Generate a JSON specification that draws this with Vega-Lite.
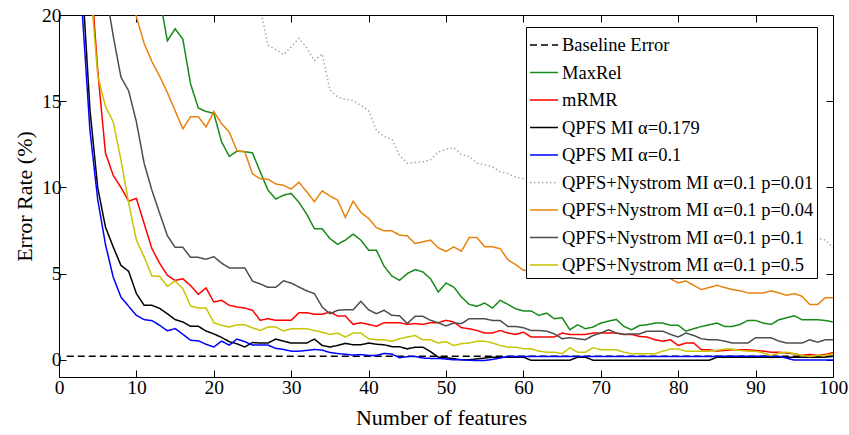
{
"$schema": "https://vega.github.io/schema/vega-lite/v6.json",
"autosize": {"type": "none"},
"padding": {"left": 59, "top": 15, "right": 16, "bottom": 58},
"width": 774,
"height": 362,
"background": "white",
"config": {
  "view": {"stroke": null},
  "axis": {"domainColor": "black", "tickColor": "black", "labelColor": "black", "titleColor": "black", "labelFont": "Liberation Serif", "titleFont": "Liberation Serif", "labelFontSize": 19.5, "titleFontSize": 22, "titleFontWeight": "normal", "tickSize": -7, "grid": false, "domainWidth": 1, "tickWidth": 1, "labelFlush": false, "labelOverlap": false},
  "legend": {"orient": "none", "legendX": 467, "legendY": 12, "fillColor": "white", "strokeColor": "black", "padding": 3, "labelFont": "Liberation Serif", "labelFontSize": 18.5, "labelColor": "black", "symbolType": "stroke", "symbolSize": 784, "symbolStrokeWidth": 1.5, "rowPadding": 2.5, "labelOffset": 3, "title": null, "zindex": 1, "labelLimit": 400}
},
"data": {"values": [
{"k":"B","n":1,"e":0.2},{"k":"B","n":100,"e":0.2},
{"k":"G","n":1,"e":60},{"k":"G","n":2,"e":50},{"k":"G","n":3,"e":45},{"k":"G","n":4,"e":40},{"k":"G","n":5,"e":36},{"k":"G","n":6,"e":33},{"k":"G","n":7,"e":30},{"k":"G","n":8,"e":28},{"k":"G","n":9,"e":26},{"k":"G","n":10,"e":24},{"k":"G","n":11,"e":23},{"k":"G","n":12,"e":22},{"k":"G","n":13,"e":21},{"k":"G","n":14,"e":18.5},{"k":"G","n":15,"e":19.2},{"k":"G","n":16,"e":18.6},{"k":"G","n":17,"e":16.0},{"k":"G","n":18,"e":14.6},{"k":"G","n":19,"e":14.4},{"k":"G","n":20,"e":14.3},{"k":"G","n":21,"e":12.65},{"k":"G","n":22,"e":11.8},{"k":"G","n":23,"e":12.1},{"k":"G","n":24,"e":12.07},{"k":"G","n":25,"e":12.0},{"k":"G","n":26,"e":10.9},{"k":"G","n":27,"e":9.84},{"k":"G","n":28,"e":9.32},{"k":"G","n":29,"e":9.55},{"k":"G","n":30,"e":9.65},{"k":"G","n":31,"e":9.13},{"k":"G","n":32,"e":8.45},{"k":"G","n":33,"e":7.6},{"k":"G","n":34,"e":7.6},{"k":"G","n":35,"e":7.03},{"k":"G","n":36,"e":6.7},{"k":"G","n":37,"e":6.94},{"k":"G","n":38,"e":7.29},{"k":"G","n":39,"e":6.94},{"k":"G","n":40,"e":6.36},{"k":"G","n":41,"e":6.36},{"k":"G","n":42,"e":5.43},{"k":"G","n":43,"e":4.86},{"k":"G","n":44,"e":4.61},{"k":"G","n":45,"e":5.0},{"k":"G","n":46,"e":5.23},{"k":"G","n":47,"e":5.1},{"k":"G","n":48,"e":4.7},{"k":"G","n":49,"e":3.93},{"k":"G","n":50,"e":4.45},{"k":"G","n":51,"e":4.22},{"k":"G","n":52,"e":3.64},{"k":"G","n":53,"e":3.21},{"k":"G","n":54,"e":3.1},{"k":"G","n":55,"e":3.29},{"k":"G","n":56,"e":3.0},{"k":"G","n":57,"e":3.45},{"k":"G","n":58,"e":3.21},{"k":"G","n":59,"e":2.96},{"k":"G","n":60,"e":2.83},{"k":"G","n":61,"e":2.83},{"k":"G","n":62,"e":2.57},{"k":"G","n":63,"e":2.71},{"k":"G","n":64,"e":2.38},{"k":"G","n":65,"e":2.44},{"k":"G","n":66,"e":1.74},{"k":"G","n":67,"e":2.03},{"k":"G","n":68,"e":1.8},{"k":"G","n":69,"e":1.9},{"k":"G","n":70,"e":2.13},{"k":"G","n":71,"e":2.24},{"k":"G","n":72,"e":2.34},{"k":"G","n":73,"e":1.93},{"k":"G","n":74,"e":1.74},{"k":"G","n":75,"e":1.99},{"k":"G","n":76,"e":2.03},{"k":"G","n":77,"e":2.13},{"k":"G","n":78,"e":2.13},{"k":"G","n":79,"e":2.0},{"k":"G","n":80,"e":2.0},{"k":"G","n":81,"e":1.66},{"k":"G","n":82,"e":1.8},{"k":"G","n":83,"e":1.93},{"k":"G","n":84,"e":2.03},{"k":"G","n":85,"e":2.13},{"k":"G","n":86,"e":1.93},{"k":"G","n":87,"e":1.93},{"k":"G","n":88,"e":2.05},{"k":"G","n":89,"e":2.28},{"k":"G","n":90,"e":2.28},{"k":"G","n":91,"e":2.13},{"k":"G","n":92,"e":2.05},{"k":"G","n":93,"e":2.32},{"k":"G","n":94,"e":2.44},{"k":"G","n":95,"e":2.55},{"k":"G","n":96,"e":2.32},{"k":"G","n":97,"e":2.32},{"k":"G","n":98,"e":2.32},{"k":"G","n":99,"e":2.28},{"k":"G","n":100,"e":2.19},
{"k":"R","n":1,"e":50},{"k":"R","n":2,"e":40},{"k":"R","n":3,"e":30},{"k":"R","n":4,"e":23},{"k":"R","n":5,"e":16.8},{"k":"R","n":6,"e":12.0},{"k":"R","n":7,"e":10.7},{"k":"R","n":8,"e":10.0},{"k":"R","n":9,"e":9.2},{"k":"R","n":10,"e":9.36},{"k":"R","n":11,"e":7.9},{"k":"R","n":12,"e":6.45},{"k":"R","n":13,"e":5.6},{"k":"R","n":14,"e":4.9},{"k":"R","n":15,"e":4.6},{"k":"R","n":16,"e":4.7},{"k":"R","n":17,"e":4.3},{"k":"R","n":18,"e":3.8},{"k":"R","n":19,"e":4.17},{"k":"R","n":20,"e":3.35},{"k":"R","n":21,"e":3.45},{"k":"R","n":22,"e":3.16},{"k":"R","n":23,"e":3.06},{"k":"R","n":24,"e":3.0},{"k":"R","n":25,"e":2.87},{"k":"R","n":26,"e":2.29},{"k":"R","n":27,"e":2.38},{"k":"R","n":28,"e":2.29},{"k":"R","n":29,"e":2.29},{"k":"R","n":30,"e":2.29},{"k":"R","n":31,"e":2.73},{"k":"R","n":32,"e":2.73},{"k":"R","n":33,"e":2.64},{"k":"R","n":34,"e":2.64},{"k":"R","n":35,"e":2.77},{"k":"R","n":36,"e":2.54},{"k":"R","n":37,"e":2.54},{"k":"R","n":38,"e":2.05},{"k":"R","n":39,"e":2.15},{"k":"R","n":40,"e":2.05},{"k":"R","n":41,"e":1.94},{"k":"R","n":42,"e":2.15},{"k":"R","n":43,"e":2.15},{"k":"R","n":44,"e":2.15},{"k":"R","n":45,"e":2.05},{"k":"R","n":46,"e":2.1},{"k":"R","n":47,"e":2.05},{"k":"R","n":48,"e":2.15},{"k":"R","n":49,"e":2.15},{"k":"R","n":50,"e":2.29},{"k":"R","n":51,"e":2.19},{"k":"R","n":52,"e":1.86},{"k":"R","n":53,"e":1.8},{"k":"R","n":54,"e":1.7},{"k":"R","n":55,"e":1.55},{"k":"R","n":56,"e":1.55},{"k":"R","n":57,"e":1.7},{"k":"R","n":58,"e":1.55},{"k":"R","n":59,"e":1.47},{"k":"R","n":60,"e":1.6},{"k":"R","n":61,"e":1.32},{"k":"R","n":62,"e":1.32},{"k":"R","n":63,"e":1.32},{"k":"R","n":64,"e":1.32},{"k":"R","n":65,"e":1.55},{"k":"R","n":66,"e":1.47},{"k":"R","n":67,"e":1.47},{"k":"R","n":68,"e":1.47},{"k":"R","n":69,"e":1.55},{"k":"R","n":70,"e":1.55},{"k":"R","n":71,"e":1.55},{"k":"R","n":72,"e":1.55},{"k":"R","n":73,"e":1.47},{"k":"R","n":74,"e":1.47},{"k":"R","n":75,"e":1.35},{"k":"R","n":76,"e":1.32},{"k":"R","n":77,"e":1.16},{"k":"R","n":78,"e":1.08},{"k":"R","n":79,"e":1.16},{"k":"R","n":80,"e":0.83},{"k":"R","n":81,"e":0.97},{"k":"R","n":82,"e":0.97},{"k":"R","n":83,"e":0.58},{"k":"R","n":84,"e":0.58},{"k":"R","n":85,"e":0.5},{"k":"R","n":86,"e":0.54},{"k":"R","n":87,"e":0.58},{"k":"R","n":88,"e":0.58},{"k":"R","n":89,"e":0.58},{"k":"R","n":90,"e":0.54},{"k":"R","n":91,"e":0.5},{"k":"R","n":92,"e":0.44},{"k":"R","n":93,"e":0.44},{"k":"R","n":94,"e":0.39},{"k":"R","n":95,"e":0.35},{"k":"R","n":96,"e":0.25},{"k":"R","n":97,"e":0.31},{"k":"R","n":98,"e":0.25},{"k":"R","n":99,"e":0.31},{"k":"R","n":100,"e":0.42},
{"k":"K","n":1,"e":45},{"k":"K","n":2,"e":32},{"k":"K","n":3,"e":22},{"k":"K","n":4,"e":14.5},{"k":"K","n":5,"e":10.0},{"k":"K","n":6,"e":7.7},{"k":"K","n":7,"e":6.55},{"k":"K","n":8,"e":5.48},{"k":"K","n":9,"e":5.13},{"k":"K","n":10,"e":3.84},{"k":"K","n":11,"e":3.16},{"k":"K","n":12,"e":3.16},{"k":"K","n":13,"e":2.98},{"k":"K","n":14,"e":2.67},{"k":"K","n":15,"e":2.33},{"k":"K","n":16,"e":2.19},{"k":"K","n":17,"e":1.94},{"k":"K","n":18,"e":1.94},{"k":"K","n":19,"e":1.67},{"k":"K","n":20,"e":1.5},{"k":"K","n":21,"e":1.3},{"k":"K","n":22,"e":1.05},{"k":"K","n":23,"e":0.92},{"k":"K","n":24,"e":0.74},{"k":"K","n":25,"e":1.0},{"k":"K","n":26,"e":0.97},{"k":"K","n":27,"e":0.97},{"k":"K","n":28,"e":1.2},{"k":"K","n":29,"e":1.08},{"k":"K","n":30,"e":0.97},{"k":"K","n":31,"e":0.97},{"k":"K","n":32,"e":0.97},{"k":"K","n":33,"e":1.2},{"k":"K","n":34,"e":0.83},{"k":"K","n":35,"e":0.74},{"k":"K","n":36,"e":0.83},{"k":"K","n":37,"e":0.95},{"k":"K","n":38,"e":0.87},{"k":"K","n":39,"e":0.87},{"k":"K","n":40,"e":0.97},{"k":"K","n":41,"e":0.9},{"k":"K","n":42,"e":0.87},{"k":"K","n":43,"e":0.76},{"k":"K","n":44,"e":0.76},{"k":"K","n":45,"e":0.63},{"k":"K","n":46,"e":0.73},{"k":"K","n":47,"e":0.73},{"k":"K","n":48,"e":0.47},{"k":"K","n":49,"e":0.15},{"k":"K","n":50,"e":0.12},{"k":"K","n":51,"e":0.06},{"k":"K","n":52,"e":0.0},{"k":"K","n":53,"e":0.0},{"k":"K","n":54,"e":0.05},{"k":"K","n":55,"e":0.1},{"k":"K","n":56,"e":0.15},{"k":"K","n":57,"e":0.15},{"k":"K","n":58,"e":0.15},{"k":"K","n":59,"e":0.15},{"k":"K","n":60,"e":0.15},{"k":"K","n":61,"e":-0.03},{"k":"K","n":62,"e":-0.03},{"k":"K","n":63,"e":-0.03},{"k":"K","n":64,"e":-0.03},{"k":"K","n":65,"e":-0.03},{"k":"K","n":66,"e":-0.03},{"k":"K","n":67,"e":0.15},{"k":"K","n":68,"e":0.15},{"k":"K","n":69,"e":-0.03},{"k":"K","n":70,"e":-0.03},{"k":"K","n":71,"e":-0.03},{"k":"K","n":72,"e":-0.03},{"k":"K","n":73,"e":-0.03},{"k":"K","n":74,"e":-0.03},{"k":"K","n":75,"e":-0.03},{"k":"K","n":76,"e":-0.03},{"k":"K","n":77,"e":-0.03},{"k":"K","n":78,"e":-0.03},{"k":"K","n":79,"e":-0.03},{"k":"K","n":80,"e":-0.03},{"k":"K","n":81,"e":-0.03},{"k":"K","n":82,"e":-0.03},{"k":"K","n":83,"e":-0.03},{"k":"K","n":84,"e":-0.03},{"k":"K","n":85,"e":0.15},{"k":"K","n":86,"e":0.15},{"k":"K","n":87,"e":0.15},{"k":"K","n":88,"e":0.15},{"k":"K","n":89,"e":0.15},{"k":"K","n":90,"e":0.15},{"k":"K","n":91,"e":0.15},{"k":"K","n":92,"e":0.15},{"k":"K","n":93,"e":0.15},{"k":"K","n":94,"e":0.15},{"k":"K","n":95,"e":0.15},{"k":"K","n":96,"e":0.15},{"k":"K","n":97,"e":0.15},{"k":"K","n":98,"e":0.15},{"k":"K","n":99,"e":0.15},{"k":"K","n":100,"e":0.2},
{"k":"U","n":1,"e":40},{"k":"U","n":2,"e":30},{"k":"U","n":3,"e":20.2},{"k":"U","n":4,"e":13.3},{"k":"U","n":5,"e":9.3},{"k":"U","n":6,"e":6.7},{"k":"U","n":7,"e":4.8},{"k":"U","n":8,"e":3.64},{"k":"U","n":9,"e":3.1},{"k":"U","n":10,"e":2.58},{"k":"U","n":11,"e":2.33},{"k":"U","n":12,"e":2.27},{"k":"U","n":13,"e":2.0},{"k":"U","n":14,"e":1.68},{"k":"U","n":15,"e":1.81},{"k":"U","n":16,"e":1.48},{"k":"U","n":17,"e":1.13},{"k":"U","n":18,"e":1.1},{"k":"U","n":19,"e":0.9},{"k":"U","n":20,"e":0.74},{"k":"U","n":21,"e":1.08},{"k":"U","n":22,"e":0.85},{"k":"U","n":23,"e":1.2},{"k":"U","n":24,"e":1.05},{"k":"U","n":25,"e":0.85},{"k":"U","n":26,"e":0.85},{"k":"U","n":27,"e":0.85},{"k":"U","n":28,"e":0.66},{"k":"U","n":29,"e":0.6},{"k":"U","n":30,"e":0.5},{"k":"U","n":31,"e":0.5},{"k":"U","n":32,"e":0.54},{"k":"U","n":33,"e":0.6},{"k":"U","n":34,"e":0.56},{"k":"U","n":35,"e":0.42},{"k":"U","n":36,"e":0.36},{"k":"U","n":37,"e":0.32},{"k":"U","n":38,"e":0.27},{"k":"U","n":39,"e":0.3},{"k":"U","n":40,"e":0.25},{"k":"U","n":41,"e":0.25},{"k":"U","n":42,"e":0.37},{"k":"U","n":43,"e":0.33},{"k":"U","n":44,"e":0.12},{"k":"U","n":45,"e":0.18},{"k":"U","n":46,"e":0.19},{"k":"U","n":47,"e":0.1},{"k":"U","n":48,"e":0.08},{"k":"U","n":49,"e":0.08},{"k":"U","n":50,"e":0.04},{"k":"U","n":51,"e":0.0},{"k":"U","n":52,"e":0.0},{"k":"U","n":53,"e":-0.03},{"k":"U","n":54,"e":-0.04},{"k":"U","n":55,"e":-0.04},{"k":"U","n":56,"e":0.02},{"k":"U","n":57,"e":0.1},{"k":"U","n":58,"e":0.19},{"k":"U","n":59,"e":0.19},{"k":"U","n":60,"e":0.19},{"k":"U","n":61,"e":0.19},{"k":"U","n":62,"e":0.19},{"k":"U","n":63,"e":0.19},{"k":"U","n":64,"e":0.19},{"k":"U","n":65,"e":0.19},{"k":"U","n":66,"e":0.19},{"k":"U","n":67,"e":0.19},{"k":"U","n":68,"e":0.19},{"k":"U","n":69,"e":0.19},{"k":"U","n":70,"e":0.19},{"k":"U","n":71,"e":0.19},{"k":"U","n":72,"e":0.19},{"k":"U","n":73,"e":0.19},{"k":"U","n":74,"e":0.19},{"k":"U","n":75,"e":0.19},{"k":"U","n":76,"e":0.19},{"k":"U","n":77,"e":0.19},{"k":"U","n":78,"e":0.19},{"k":"U","n":79,"e":0.19},{"k":"U","n":80,"e":0.19},{"k":"U","n":81,"e":0.19},{"k":"U","n":82,"e":0.19},{"k":"U","n":83,"e":0.19},{"k":"U","n":84,"e":0.19},{"k":"U","n":85,"e":0.2},{"k":"U","n":86,"e":0.2},{"k":"U","n":87,"e":0.2},{"k":"U","n":88,"e":0.2},{"k":"U","n":89,"e":0.2},{"k":"U","n":90,"e":0.2},{"k":"U","n":91,"e":0.2},{"k":"U","n":92,"e":0.2},{"k":"U","n":93,"e":0.2},{"k":"U","n":94,"e":0.1},{"k":"U","n":95,"e":-0.02},{"k":"U","n":96,"e":-0.02},{"k":"U","n":97,"e":-0.02},{"k":"U","n":98,"e":-0.02},{"k":"U","n":99,"e":-0.02},{"k":"U","n":100,"e":-0.02},
{"k":"D","n":1,"e":60},{"k":"D","n":2,"e":55},{"k":"D","n":3,"e":50},{"k":"D","n":4,"e":46},{"k":"D","n":5,"e":43},{"k":"D","n":6,"e":40},{"k":"D","n":7,"e":38},{"k":"D","n":8,"e":36},{"k":"D","n":9,"e":34},{"k":"D","n":10,"e":32.5},{"k":"D","n":11,"e":31},{"k":"D","n":12,"e":30},{"k":"D","n":13,"e":29},{"k":"D","n":14,"e":28},{"k":"D","n":15,"e":27},{"k":"D","n":16,"e":26.5},{"k":"D","n":17,"e":26},{"k":"D","n":18,"e":25},{"k":"D","n":19,"e":24.5},{"k":"D","n":20,"e":24},{"k":"D","n":21,"e":23.5},{"k":"D","n":22,"e":23},{"k":"D","n":23,"e":22.5},{"k":"D","n":24,"e":22},{"k":"D","n":25,"e":21.5},{"k":"D","n":26,"e":20.4},{"k":"D","n":27,"e":18.25},{"k":"D","n":28,"e":18.0},{"k":"D","n":29,"e":17.7},{"k":"D","n":30,"e":18.15},{"k":"D","n":31,"e":18.65},{"k":"D","n":32,"e":18.1},{"k":"D","n":33,"e":17.35},{"k":"D","n":34,"e":17.75},{"k":"D","n":35,"e":15.65},{"k":"D","n":36,"e":15.25},{"k":"D","n":37,"e":15.1},{"k":"D","n":38,"e":15.05},{"k":"D","n":39,"e":14.75},{"k":"D","n":40,"e":14.45},{"k":"D","n":41,"e":13.3},{"k":"D","n":42,"e":12.95},{"k":"D","n":43,"e":12.8},{"k":"D","n":44,"e":11.85},{"k":"D","n":45,"e":11.4},{"k":"D","n":46,"e":11.45},{"k":"D","n":47,"e":11.48},{"k":"D","n":48,"e":11.6},{"k":"D","n":49,"e":12.05},{"k":"D","n":50,"e":12.2},{"k":"D","n":51,"e":12.3},{"k":"D","n":52,"e":11.9},{"k":"D","n":53,"e":11.8},{"k":"D","n":54,"e":11.4},{"k":"D","n":55,"e":11.3},{"k":"D","n":56,"e":11.2},{"k":"D","n":57,"e":10.9},{"k":"D","n":58,"e":10.8},{"k":"D","n":59,"e":10.6},{"k":"D","n":60,"e":10.5},{"k":"D","n":99,"e":6.95},{"k":"D","n":100,"e":6.5},
{"k":"O","n":1,"e":60},{"k":"O","n":2,"e":50},{"k":"O","n":3,"e":42},{"k":"O","n":4,"e":36},{"k":"O","n":5,"e":32},{"k":"O","n":6,"e":28},{"k":"O","n":7,"e":26},{"k":"O","n":8,"e":24},{"k":"O","n":9,"e":22.3},{"k":"O","n":10,"e":19.9},{"k":"O","n":11,"e":18.35},{"k":"O","n":12,"e":17.3},{"k":"O","n":13,"e":16.45},{"k":"O","n":14,"e":15.5},{"k":"O","n":15,"e":14.45},{"k":"O","n":16,"e":13.4},{"k":"O","n":17,"e":14.1},{"k":"O","n":18,"e":14.1},{"k":"O","n":19,"e":13.5},{"k":"O","n":20,"e":14.4},{"k":"O","n":21,"e":13.7},{"k":"O","n":22,"e":13.2},{"k":"O","n":23,"e":12.12},{"k":"O","n":24,"e":12.07},{"k":"O","n":25,"e":10.78},{"k":"O","n":26,"e":10.5},{"k":"O","n":27,"e":10.47},{"k":"O","n":28,"e":10.2},{"k":"O","n":29,"e":10.12},{"k":"O","n":30,"e":9.9},{"k":"O","n":31,"e":10.3},{"k":"O","n":32,"e":9.75},{"k":"O","n":33,"e":9.17},{"k":"O","n":34,"e":9.8},{"k":"O","n":35,"e":9.5},{"k":"O","n":36,"e":9.26},{"k":"O","n":37,"e":8.26},{"k":"O","n":38,"e":9.2},{"k":"O","n":39,"e":8.55},{"k":"O","n":40,"e":8.2},{"k":"O","n":41,"e":7.67},{"k":"O","n":42,"e":7.48},{"k":"O","n":43,"e":7.48},{"k":"O","n":44,"e":7.23},{"k":"O","n":45,"e":7.19},{"k":"O","n":46,"e":6.74},{"k":"O","n":47,"e":6.84},{"k":"O","n":48,"e":6.94},{"k":"O","n":49,"e":6.5},{"k":"O","n":50,"e":6.28},{"k":"O","n":51,"e":6.55},{"k":"O","n":52,"e":6.3},{"k":"O","n":53,"e":7.09},{"k":"O","n":54,"e":7.09},{"k":"O","n":55,"e":6.55},{"k":"O","n":56,"e":6.55},{"k":"O","n":57,"e":6.45},{"k":"O","n":58,"e":5.8},{"k":"O","n":59,"e":5.52},{"k":"O","n":60,"e":5.19},{"k":"O","n":78,"e":4.95},{"k":"O","n":79,"e":4.7},{"k":"O","n":80,"e":4.46},{"k":"O","n":81,"e":4.57},{"k":"O","n":82,"e":4.32},{"k":"O","n":83,"e":4.07},{"k":"O","n":84,"e":4.19},{"k":"O","n":85,"e":4.32},{"k":"O","n":86,"e":4.19},{"k":"O","n":87,"e":4.07},{"k":"O","n":88,"e":4.0},{"k":"O","n":89,"e":3.88},{"k":"O","n":90,"e":3.88},{"k":"O","n":91,"e":3.88},{"k":"O","n":92,"e":4.0},{"k":"O","n":93,"e":3.88},{"k":"O","n":94,"e":3.74},{"k":"O","n":95,"e":3.84},{"k":"O","n":96,"e":3.68},{"k":"O","n":97,"e":3.2},{"k":"O","n":98,"e":3.2},{"k":"O","n":99,"e":3.6},{"k":"O","n":100,"e":3.6},
{"k":"A","n":1,"e":60},{"k":"A","n":2,"e":45},{"k":"A","n":3,"e":35},{"k":"A","n":4,"e":29},{"k":"A","n":5,"e":25},{"k":"A","n":6,"e":21.5},{"k":"A","n":7,"e":18.8},{"k":"A","n":8,"e":16.4},{"k":"A","n":9,"e":15.6},{"k":"A","n":10,"e":13.8},{"k":"A","n":11,"e":11.4},{"k":"A","n":12,"e":9.84},{"k":"A","n":13,"e":8.5},{"k":"A","n":14,"e":7.2},{"k":"A","n":15,"e":6.52},{"k":"A","n":16,"e":6.52},{"k":"A","n":17,"e":5.94},{"k":"A","n":18,"e":5.94},{"k":"A","n":19,"e":5.83},{"k":"A","n":20,"e":5.98},{"k":"A","n":21,"e":5.61},{"k":"A","n":22,"e":5.33},{"k":"A","n":23,"e":5.33},{"k":"A","n":24,"e":5.33},{"k":"A","n":25,"e":4.56},{"k":"A","n":26,"e":4.4},{"k":"A","n":27,"e":4.2},{"k":"A","n":28,"e":4.2},{"k":"A","n":29,"e":4.58},{"k":"A","n":30,"e":4.45},{"k":"A","n":31,"e":4.22},{"k":"A","n":32,"e":4.0},{"k":"A","n":33,"e":3.84},{"k":"A","n":34,"e":3.06},{"k":"A","n":35,"e":2.67},{"k":"A","n":36,"e":2.87},{"k":"A","n":37,"e":2.9},{"k":"A","n":38,"e":2.9},{"k":"A","n":39,"e":3.39},{"k":"A","n":40,"e":2.9},{"k":"A","n":41,"e":2.67},{"k":"A","n":42,"e":2.87},{"k":"A","n":43,"e":2.58},{"k":"A","n":44,"e":2.55},{"k":"A","n":45,"e":2.1},{"k":"A","n":46,"e":2.52},{"k":"A","n":47,"e":2.52},{"k":"A","n":48,"e":2.29},{"k":"A","n":49,"e":2.15},{"k":"A","n":50,"e":1.96},{"k":"A","n":51,"e":2.13},{"k":"A","n":52,"e":2.1},{"k":"A","n":53,"e":2.38},{"k":"A","n":54,"e":2.38},{"k":"A","n":55,"e":2.38},{"k":"A","n":56,"e":2.28},{"k":"A","n":57,"e":2.28},{"k":"A","n":58,"e":1.93},{"k":"A","n":59,"e":1.93},{"k":"A","n":60,"e":1.86},{"k":"A","n":61,"e":1.7},{"k":"A","n":62,"e":1.7},{"k":"A","n":63,"e":1.66},{"k":"A","n":64,"e":1.5},{"k":"A","n":65,"e":1.22},{"k":"A","n":66,"e":1.28},{"k":"A","n":67,"e":1.22},{"k":"A","n":68,"e":1.16},{"k":"A","n":69,"e":1.41},{"k":"A","n":70,"e":1.55},{"k":"A","n":71,"e":1.74},{"k":"A","n":72,"e":1.55},{"k":"A","n":73,"e":1.47},{"k":"A","n":74,"e":1.5},{"k":"A","n":75,"e":1.5},{"k":"A","n":76,"e":1.66},{"k":"A","n":77,"e":1.66},{"k":"A","n":78,"e":1.66},{"k":"A","n":79,"e":1.47},{"k":"A","n":80,"e":1.32},{"k":"A","n":81,"e":1.55},{"k":"A","n":82,"e":1.41},{"k":"A","n":83,"e":1.22},{"k":"A","n":84,"e":1.16},{"k":"A","n":85,"e":1.16},{"k":"A","n":86,"e":1.08},{"k":"A","n":87,"e":0.97},{"k":"A","n":88,"e":0.97},{"k":"A","n":89,"e":0.97},{"k":"A","n":90,"e":1.28},{"k":"A","n":91,"e":1.28},{"k":"A","n":92,"e":1.28},{"k":"A","n":93,"e":1.08},{"k":"A","n":94,"e":0.97},{"k":"A","n":95,"e":0.97},{"k":"A","n":96,"e":0.97},{"k":"A","n":97,"e":1.16},{"k":"A","n":98,"e":1.02},{"k":"A","n":99,"e":1.16},{"k":"A","n":100,"e":1.16},
{"k":"L","n":1,"e":50},{"k":"L","n":2,"e":38},{"k":"L","n":3,"e":29},{"k":"L","n":4,"e":22},{"k":"L","n":5,"e":16.5},{"k":"L","n":6,"e":14.7},{"k":"L","n":7,"e":13.8},{"k":"L","n":8,"e":11.6},{"k":"L","n":9,"e":9.1},{"k":"L","n":10,"e":6.94},{"k":"L","n":11,"e":5.97},{"k":"L","n":12,"e":4.86},{"k":"L","n":13,"e":4.84},{"k":"L","n":14,"e":4.26},{"k":"L","n":15,"e":4.57},{"k":"L","n":16,"e":4.13},{"k":"L","n":17,"e":3.12},{"k":"L","n":18,"e":3.0},{"k":"L","n":19,"e":3.0},{"k":"L","n":20,"e":2.15},{"k":"L","n":21,"e":2.0},{"k":"L","n":22,"e":1.9},{"k":"L","n":23,"e":2.03},{"k":"L","n":24,"e":2.03},{"k":"L","n":25,"e":1.85},{"k":"L","n":26,"e":1.7},{"k":"L","n":27,"e":1.9},{"k":"L","n":28,"e":1.9},{"k":"L","n":29,"e":1.67},{"k":"L","n":30,"e":1.8},{"k":"L","n":31,"e":1.8},{"k":"L","n":32,"e":1.8},{"k":"L","n":33,"e":1.7},{"k":"L","n":34,"e":1.6},{"k":"L","n":35,"e":1.47},{"k":"L","n":36,"e":1.55},{"k":"L","n":37,"e":1.32},{"k":"L","n":38,"e":1.55},{"k":"L","n":39,"e":1.55},{"k":"L","n":40,"e":1.22},{"k":"L","n":41,"e":1.16},{"k":"L","n":42,"e":1.16},{"k":"L","n":43,"e":1.07},{"k":"L","n":44,"e":1.22},{"k":"L","n":45,"e":1.32},{"k":"L","n":46,"e":1.41},{"k":"L","n":47,"e":1.16},{"k":"L","n":48,"e":1.16},{"k":"L","n":49,"e":0.97},{"k":"L","n":50,"e":1.05},{"k":"L","n":51,"e":0.83},{"k":"L","n":52,"e":0.93},{"k":"L","n":53,"e":0.97},{"k":"L","n":54,"e":1.08},{"k":"L","n":55,"e":1.08},{"k":"L","n":56,"e":0.97},{"k":"L","n":57,"e":0.83},{"k":"L","n":58,"e":0.73},{"k":"L","n":59,"e":0.73},{"k":"L","n":60,"e":0.64},{"k":"L","n":61,"e":0.64},{"k":"L","n":62,"e":0.5},{"k":"L","n":63,"e":0.44},{"k":"L","n":64,"e":0.44},{"k":"L","n":65,"e":0.35},{"k":"L","n":66,"e":0.7},{"k":"L","n":67,"e":0.44},{"k":"L","n":68,"e":0.44},{"k":"L","n":69,"e":0.7},{"k":"L","n":70,"e":0.58},{"k":"L","n":71,"e":0.58},{"k":"L","n":72,"e":0.58},{"k":"L","n":73,"e":0.44},{"k":"L","n":74,"e":0.35},{"k":"L","n":75,"e":0.35},{"k":"L","n":76,"e":0.35},{"k":"L","n":77,"e":0.35},{"k":"L","n":78,"e":0.5},{"k":"L","n":79,"e":0.62},{"k":"L","n":80,"e":0.62},{"k":"L","n":81,"e":0.5},{"k":"L","n":82,"e":0.5},{"k":"L","n":83,"e":0.5},{"k":"L","n":84,"e":0.5},{"k":"L","n":85,"e":0.54},{"k":"L","n":86,"e":0.62},{"k":"L","n":87,"e":0.62},{"k":"L","n":88,"e":0.54},{"k":"L","n":89,"e":0.5},{"k":"L","n":90,"e":0.5},{"k":"L","n":91,"e":0.39},{"k":"L","n":92,"e":0.25},{"k":"L","n":93,"e":0.39},{"k":"L","n":94,"e":0.44},{"k":"L","n":95,"e":0.35},{"k":"L","n":96,"e":0.25},{"k":"L","n":97,"e":0.19},{"k":"L","n":98,"e":0.25},{"k":"L","n":99,"e":0.25},{"k":"L","n":100,"e":0.35}
]},
"transform": [
  {"lookup": "k", "from": {"data": {"values": [
    {"k":"B","name":"Baseline Error"},{"k":"G","name":"MaxRel"},{"k":"R","name":"mRMR"},{"k":"K","name":"QPFS MI α=0.179"},{"k":"U","name":"QPFS MI α=0.1"},{"k":"D","name":"QPFS+Nystrom MI α=0.1 p=0.01"},{"k":"O","name":"QPFS+Nystrom MI α=0.1 p=0.04"},{"k":"A","name":"QPFS+Nystrom MI α=0.1 p=0.1"},{"k":"L","name":"QPFS+Nystrom MI α=0.1 p=0.5"}
  ]}, "key": "k", "fields": ["name"]}}
],
"layer": [
  {
    "mark": {"type": "line", "clip": true, "strokeWidth": 1.5},
    "encoding": {
      "x": {"field": "n", "type": "quantitative", "scale": {"domain": [0, 100], "nice": false, "zero": false},
            "axis": {"orient": "bottom", "values": [0,10,20,30,40,50,60,70,80,90,100], "title": "Number of features", "labelPadding": 8, "titlePadding": 11, "titleX": 382, "titleAnchor": "middle", "titleAlign": "center"}},
      "y": {"field": "e", "type": "quantitative", "scale": {"domain": [-1, 20], "nice": false, "zero": false},
            "axis": {"orient": "left", "values": [0,5,10,15,20], "title": "Error Rate (%)", "labelPadding": 5, "titlePadding": 5}},
      "color": {"field": "name", "type": "nominal", "sort": null,
        "scale": {"domain": ["Baseline Error","MaxRel","mRMR","QPFS MI α=0.179","QPFS MI α=0.1","QPFS+Nystrom MI α=0.1 p=0.01","QPFS+Nystrom MI α=0.1 p=0.04","QPFS+Nystrom MI α=0.1 p=0.1","QPFS+Nystrom MI α=0.1 p=0.5"],
                  "range": ["#000000","#178a17","#ff0000","#000000","#0000ff","#aaaaaa","#e8820e","#4d4d4d","#c8c400"]}},
      "strokeDash": {"field": "name", "type": "nominal", "sort": null,
        "scale": {"domain": ["Baseline Error","MaxRel","mRMR","QPFS MI α=0.179","QPFS MI α=0.1","QPFS+Nystrom MI α=0.1 p=0.01","QPFS+Nystrom MI α=0.1 p=0.04","QPFS+Nystrom MI α=0.1 p=0.1","QPFS+Nystrom MI α=0.1 p=0.5"],
                  "range": [[7,4],[1,0],[1,0],[1,0],[1,0],[1.5,2.5],[1,0],[1,0],[1,0]]}},
      "order": {"field": "n", "type": "quantitative"}
    }
  },
  {
    "transform": [{"filter": "datum.k == 'B'"}],
    "mark": {"type": "line", "opacity": 0},
    "encoding": {
      "x": {"field": "n", "type": "quantitative", "axis": {"orient": "top", "values": [0,10,20,30,40,50,60,70,80,90,100], "labels": false, "title": null}},
      "y": {"field": "e", "type": "quantitative", "axis": {"orient": "right", "values": [0,5,10,15,20], "labels": false, "title": null}}
    }
  }
],
"resolve": {"axis": {"x": "independent", "y": "independent"}}
}
